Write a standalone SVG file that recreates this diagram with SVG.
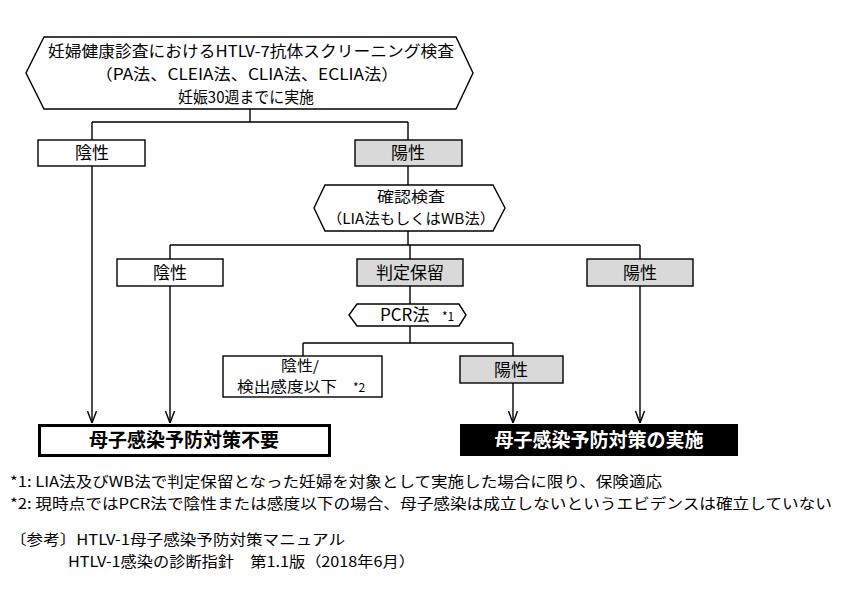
<svg xmlns="http://www.w3.org/2000/svg" width="851" height="614" viewBox="0 0 851 614">
<style>
text{font-family:"Noto Sans CJK JP","Liberation Sans",sans-serif;font-size:17px;fill:#000;}
.c{text-anchor:middle;}
.box{fill:#fff;stroke:#000;stroke-width:1.4;}
.gray{fill:#d9d9d9;stroke:#000;stroke-width:1.4;}
.ln{fill:none;stroke:#000;stroke-width:1.4;}
.big{font-size:19px;font-weight:bold;}
.sm{font-size:12px;}
.fn{font-size:14.5px;}
.t2{font-size:15.5px;}
.t3{font-size:14.5px;}
</style>
<defs>
<marker id="arr" viewBox="0 -5 12 10" refX="12" refY="0" markerWidth="12" markerHeight="10" markerUnits="userSpaceOnUse" orient="auto">
<path d="M0,-4.5 L12,0 L0,4.5" fill="none" stroke="#000" stroke-width="1.4"/>
</marker>
</defs>
<rect width="851" height="614" fill="#fff"/>
<g id="connectors">
<path class="ln" d="M250,109 V122 M92,122 H408 M92,122 V140 M408,122 V140"/>
<path class="ln" d="M408,166 V185"/>
<path class="ln" d="M408,231 V245 M170,245 H640 M170,245 V259 M410,245 V259 M640,245 V259"/>
<path class="ln" d="M410,286 V304 M410,326 V343 M303,343 H513 M303,343 V356 M513,343 V356"/>
<path class="ln" d="M92,166 V423" marker-end="url(#arr)"/>
<path class="ln" d="M170,286 V423" marker-end="url(#arr)"/>
<path class="ln" d="M513,383 V423" marker-end="url(#arr)"/>
<path class="ln" d="M640,286 V423" marker-end="url(#arr)"/>
</g>
<g id="screening">
<polygon class="box" points="44,37 456,37 473,73 456,109 44,109 26,73"/>
<text class="c t2" x="251" y="57" textLength="406" lengthAdjust="spacingAndGlyphs">妊婦健康診査におけるHTLV-7抗体スクリーニング検査</text>
<text class="c t2" x="247" y="80" textLength="303" lengthAdjust="spacingAndGlyphs">（PA法、CLEIA法、CLIA法、ECLIA法）</text>
<text class="c t2" x="246" y="103" textLength="136" lengthAdjust="spacingAndGlyphs">妊娠30週までに実施</text>
</g>
<g id="neg1">
<rect class="box" x="38" y="140" width="107" height="26"/>
<text class="c" x="92" y="159">陰性</text>
</g>
<g id="pos1">
<rect class="gray" x="355" y="140" width="107" height="26"/>
<text class="c" x="408" y="159">陽性</text>
</g>
<g id="confirm">
<polygon class="box" points="325,185 493,185 505,208 493,231 325,231 314,208"/>
<text class="c t3" x="411" y="202" textLength="68" lengthAdjust="spacingAndGlyphs">確認検査</text>
<text class="c t3" x="411" y="224" textLength="168" lengthAdjust="spacingAndGlyphs">（LIA法もしくはWB法）</text>
</g>
<g id="neg2">
<rect class="box" x="117" y="259" width="106" height="27"/>
<text class="c" x="170" y="279">陰性</text>
</g>
<g id="hold">
<rect class="gray" x="357" y="259" width="106" height="27"/>
<text class="c" x="410" y="279">判定保留</text>
</g>
<g id="pos2">
<rect class="gray" x="587" y="259" width="106" height="27"/>
<text class="c" x="640" y="279">陽性</text>
</g>
<g id="pcr">
<polygon class="box" points="357,304 459,304 466,315 459,326 357,326 349,315"/>
<text x="380" y="321">PCR法</text>
<text class="sm" x="442" y="321">*1</text>
</g>
<g id="neg3">
<rect class="box" x="223" y="356" width="159" height="41"/>
<text class="c t3" x="300" y="371" textLength="38" lengthAdjust="spacingAndGlyphs">陰性/</text>
<text class="t3" x="237" y="392" textLength="100" lengthAdjust="spacingAndGlyphs">検出感度以下</text>
<text class="sm" x="353" y="392">*2</text>
</g>
<g id="pos3">
<rect class="gray" x="460" y="356" width="103" height="27"/>
<text class="c" x="511" y="376">陽性</text>
</g>
<g id="noprev">
<rect x="39.5" y="425.5" width="290" height="30" fill="#fff" stroke="#000" stroke-width="3"/>
<text class="c big" x="184" y="447">母子感染予防対策不要</text>
</g>
<g id="prev">
<rect x="460" y="424" width="278" height="32" fill="#000"/>
<text class="c big" x="599" y="447" style="fill:#fff">母子感染予防対策の実施</text>
</g>
<g id="notes">
<text class="fn" x="10" y="487" textLength="652" lengthAdjust="spacingAndGlyphs">*1: LIA法及びWB法で判定保留となった妊婦を対象として実施した場合に限り、保険適応</text>
<text class="fn" x="10" y="509" textLength="822" lengthAdjust="spacingAndGlyphs">*2: 現時点ではPCR法で陰性または感度以下の場合、母子感染は成立しないというエビデンスは確立していない</text>
<text class="fn" x="10" y="545" textLength="335" lengthAdjust="spacingAndGlyphs">〔参考〕HTLV-1母子感染予防対策マニュアル</text>
<text class="fn" x="68" y="567" textLength="347" lengthAdjust="spacingAndGlyphs">HTLV-1感染の診断指針　第1.1版（2018年6月）</text>
</g>
</svg>
